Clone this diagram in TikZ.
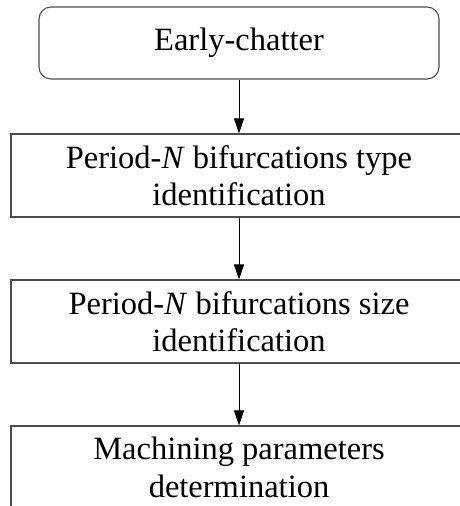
\documentclass[tikz,border=0pt]{standalone}
\usepackage{fontspec}
\setmainfont{Liberation Serif}
\usetikzlibrary{arrows.meta}
\begin{document}
\begin{tikzpicture}[x=1pt,y=-1pt,
  box/.style={draw=black!70, line width=1.1pt, align=center, inner sep=0pt,
    font=\fontsize{32.5}{37.5}\selectfont},
  stepbox/.style={box, minimum width=456pt, minimum height=83pt},
  startbox/.style={box, rounded corners=12pt, minimum width=400pt, minimum height=72pt},
  arr/.style={line width=1pt, -{Triangle[width=10pt,length=15pt]}}]
\useasboundingbox (0,0) rectangle (460,506);
\begin{scope}
\clip (0,0) rectangle (460,506);
\node[startbox] (b1) at (239,43) {Early-chatter};
\node[stepbox] (b2) at (239,175.5) {Period-\textit{N} bifurcations type\\identification};
\node[stepbox] (b3) at (239,321.5) {Period-\textit{N} bifurcations size\\identification};
\node[stepbox] (b4) at (239,467.5) {Machining parameters\\determination};
\draw[arr] (b1.south) -- (b2.north);
\draw[arr] (b2.south) -- (b3.north);
\draw[arr] (b3.south) -- (b4.north);
\end{scope}
\end{tikzpicture}
\end{document}
